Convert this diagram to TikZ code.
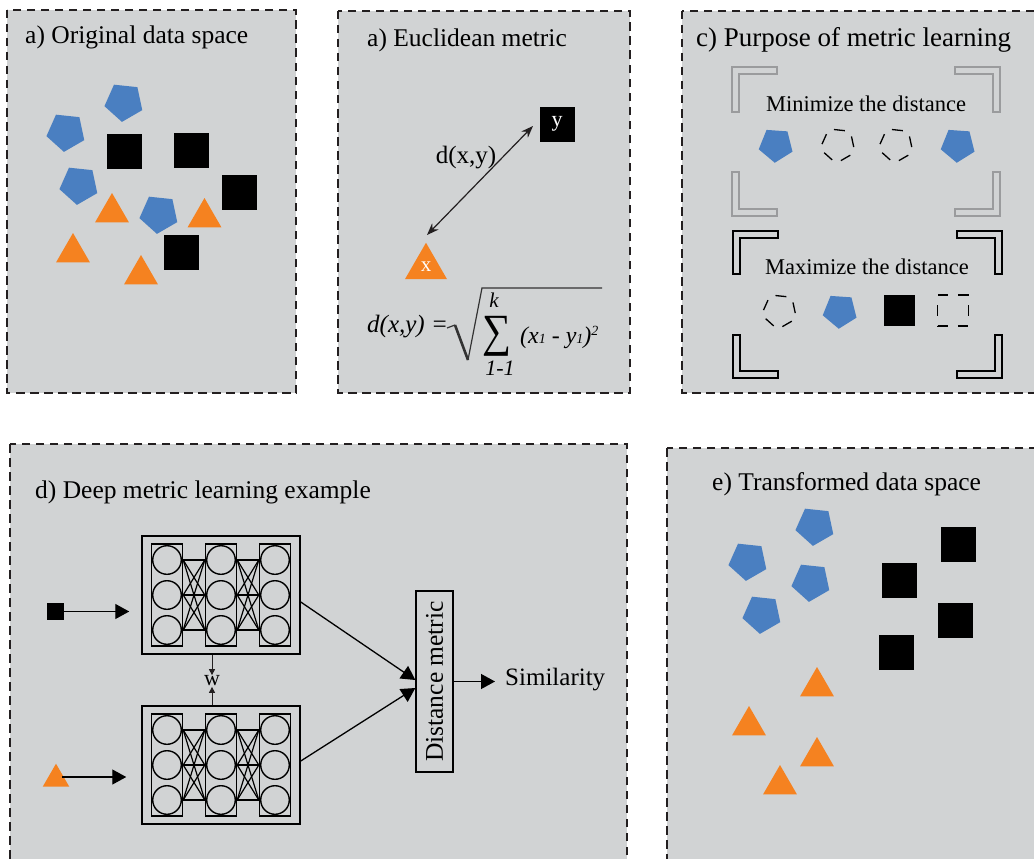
\documentclass[tikz,border=0pt]{standalone}
\usepackage{fontspec}
\setmainfont{Liberation Serif}
\usetikzlibrary{shapes.geometric,arrows.meta}
\definecolor{panelbg}{HTML}{D1D3D4}
\definecolor{frame}{HTML}{231F20}
\definecolor{pblue}{HTML}{4A7FC1}
\definecolor{porange}{HTML}{F58220}
\definecolor{bgray}{HTML}{9A9B9D}
\newcommand\myfs[1]{\fontsize{#1}{#1}\selectfont}
\tikzset{
  panel/.style={fill=panelbg, draw=frame, line width=2.2pt, dash pattern=on 8.5pt off 5.5pt},
  ttl/.style={anchor=base west, inner sep=0pt, font=\myfs{25.5}},
  pent/.style={regular polygon, regular polygon sides=5, fill=pblue, minimum size=40pt, inner sep=0pt, shape border rotate=174},
  spent/.style={pent, minimum size=35.6pt, shape border rotate=176},
  dpent/.style={regular polygon, regular polygon sides=5, draw=black, line width=1.3pt, minimum size=37pt, inner sep=0pt, shape border rotate=174,
     dash pattern=on 10.9pt off 10.9pt, dash phase=16.3pt},
  sq/.style={rectangle, fill=black, minimum size=35pt, inner sep=0pt},
  ssq/.style={rectangle, fill=black, minimum size=31pt, inner sep=0pt},
  dsq/.style={rectangle, draw=black, line width=1.3pt, minimum size=31pt, inner sep=0pt, dash pattern=on 10.33pt off 10.33pt},
  tri/.style={regular polygon, regular polygon sides=3, fill=porange, minimum size=39.2pt, inner sep=0pt},
  gbr/.style={draw=bgray, line width=1.5pt},
  kbr/.style={draw=black, line width=1.6pt},
  netbox/.style={rectangle, draw=black, line width=1.5pt, minimum width=158pt, minimum height=118pt, inner sep=0pt},
  colbox/.style={rectangle, draw=black, line width=1.4pt, minimum width=31pt, minimum height=102pt, inner sep=0pt},
  neuron/.style={circle, draw=black, line width=1.4pt, minimum size=28.6pt, inner sep=0pt},
  conn/.style={draw=black, line width=1.2pt},
  bigarrow/.style={draw=black, line width=1.3pt, -{Triangle[length=14pt,width=15pt]}},
  smallarrow/.style={draw=frame, line width=0.8pt, -{Triangle[length=6pt,width=6pt]}},
}
\begin{document}
\begin{tikzpicture}[x=1pt,y=-1pt]
\useasboundingbox (0,0) rectangle (1034,859);
\clip (0,0) rectangle (1034,859);
\fill[white] (0,0) rectangle (1034,859);

% ---------- panels ----------
\draw[panel] (7,10) rectangle (296,393);
\draw[panel] (338,11) rectangle (630,393);
\draw[panel] (682,11) rectangle (1050,393);
\draw[panel] (10,444) rectangle (627,880);
\draw[panel] (667,448) rectangle (1050,880);

% ---------- a) original data space ----------
\node[ttl] (ta) at (25,44) {a) Original data space};
\node[pent] (ap1) at (124,102) {};
\node[pent] (ap2) at (66,132) {};
\node[pent] (ap3) at (79,185) {};
\node[pent] (ap4) at (159,214) {};
\node[sq] (as1) at (124,151) {};
\node[sq] (as2) at (191,150) {};
\node[sq] (as3) at (239,192) {};
\node[sq] (as4) at (181,252) {};
\node[tri] (at1) at (112,212.6) {};
\node[tri] (at2) at (204.5,217.6) {};
\node[tri] (at3) at (73,252.6) {};
\node[tri] (at4) at (141,274.6) {};

% ---------- b) euclidean metric ----------
\node[ttl] (tb) at (367,47) {a) Euclidean metric};
\node[sq, text=white, font=\myfs{22}] (ysq) at (557,124) {y};
\node[tri, minimum size=48.5pt, text=white, font=\myfs{21}] (xtri) at (426,267) {x};
\coordinate (ea) at (427,235);
\coordinate (eb) at (533,126);
\draw[draw=frame, line width=1.2pt, {Stealth[length=12pt,width=9pt]}-{Stealth[length=12pt,width=9pt]}] (ea) -- (eb);
\node[font=\myfs{25}, inner sep=0pt] (dxy) at (466,158) {d(x,y)};
\node[anchor=base west, inner sep=0pt, font=\myfs{25}\itshape] (fl) at (367,332) {d(x,y) =};
\draw[draw=black!80, line width=1.2pt] (447,328) -- (455,325);
\draw[draw=black!80, line width=2.6pt] (455,325) -- (468,360);
\draw[draw=black!80, line width=1.2pt] (468,360) -- (482,288) -- (602,288);
\node[inner sep=0pt] (sig) at (497,336) {\resizebox*{29pt}{40pt}{∑}};
\node[inner sep=0pt, font=\myfs{21}\itshape] (kk) at (494,300) {k};
\node[inner sep=0pt, font=\myfs{22}\itshape] (ll) at (500,368) {1-1};
\node[anchor=base west, inner sep=0pt, font=\myfs{24}\itshape] (fr) at (520,343) {(x{\myfs{14}1} - y{\myfs{14}1})\raisebox{8pt}{\myfs{14}2}};

% ---------- c) purpose ----------
\node[ttl, font=\myfs{27}] (tc) at (696,47) {c) Purpose of metric learning};
\draw[gbr] (777,67) -- (732,67) -- (732,112) -- (739,112) -- (739,74) -- (777,74) -- cycle;
\draw[gbr] (955,67) -- (1000,67) -- (1000,112) -- (993,112) -- (993,74) -- (955,74) -- cycle;
\draw[gbr] (732,172) -- (732,216) -- (777,216) -- (777,209) -- (739,209) -- (739,172) -- cycle;
\draw[gbr] (1000,172) -- (1000,216) -- (955,216) -- (955,209) -- (993,209) -- (993,172) -- cycle;
\draw[kbr] (778,231) -- (733,231) -- (733,274) -- (740,274) -- (740,238) -- (778,238) -- cycle;
\draw[kbr] (957,231) -- (1002,231) -- (1002,274) -- (995,274) -- (995,238) -- (957,238) -- cycle;
\draw[kbr] (733,335) -- (733,378) -- (778,378) -- (778,371) -- (740,371) -- (740,335) -- cycle;
\draw[kbr] (1002,335) -- (1002,378) -- (957,378) -- (957,371) -- (995,371) -- (995,335) -- cycle;
\node[inner sep=0pt, font=\myfs{22.5}] (mini) at (866,104) {Minimize the distance};
\node[inner sep=0pt, font=\myfs{22.5}] (maxi) at (867,267) {Maximize the distance};
\node[spent] (cp1) at (776,145) {};
\node[dpent] (cd1) at (838,145) {};
\node[dpent] (cd2) at (896,145) {};
\node[spent] (cp2) at (958,145) {};
\node[dpent] (cd3) at (779.5,311) {};
\node[spent] (cp3) at (840,311) {};
\node[ssq] (cs1) at (899.5,310.5) {};
\node[dsq] (cs2) at (953,310.5) {};

% ---------- d) deep metric learning ----------
\node[ttl] (td) at (35,498) {d) Deep metric learning example};
\foreach \n/\cy in {t/595, b/765} {
  \node[netbox] (\n-net) at (221,\cy) {};
  \foreach \c/\cx in {1/167, 2/221, 3/275} {
    \node[colbox] (\n-col\c) at (\cx,\cy) {};
    \foreach \r/\dy in {1/-35, 2/0, 3/35} {
      \node[neuron] (\n-c\c-r\r) at ({\cx},{\cy+\dy}) {};
    }
  }
  \foreach \a/\b in {1/2, 2/3} {
    \foreach \i in {1,2,3} {
      \foreach \j in {1,2,3} {
        \draw[conn] (\n-col\a.east |- \n-c\a-r\i) -- (\n-col\b.west |- \n-c\b-r\j);
      }
    }
  }
}
\node[rectangle, fill=black, minimum size=17pt, inner sep=0pt] (insq) at (55.5,611.5) {};
\node[regular polygon, regular polygon sides=3, fill=porange, minimum size=30.6pt, inner sep=0pt] (intri) at (56,779) {};
\draw[bigarrow, shorten >=12pt] (insq.east) -- (t-net.west |- insq.east);
\draw[bigarrow, shorten >=15pt] ([xshift=-3pt]intri.east |- 0,777) -- (b-net.west |- 0,777);
\node[inner sep=0.5pt, font=\myfs{22}] (w) at (212,681) {w};
\draw[smallarrow] (w |- t-net.south) -- (w.north);
\draw[smallarrow] (w |- b-net.north) -- (w.south);
\node[rectangle, draw=black, line width=1.3pt, minimum width=37pt, minimum height=181pt, inner sep=0pt] (dist) at (434.5,681.5) {};
\node[rotate=90, inner sep=0pt, font=\myfs{25.5}] (distt) at (dist.center) {Distance metric};
\draw[bigarrow] ([yshift=-7pt]t-net.east) -- ([yshift=1.5pt]dist.west);
\draw[bigarrow] ([yshift=4pt]b-net.east) -- ([yshift=-6.5pt]dist.west);
\node[anchor=west, inner sep=0pt, font=\myfs{25}] (sim) at (505,680) {Similarity};
\draw[bigarrow, shorten >=10pt] (dist.east) -- (sim.west |- dist.east);

% ---------- e) transformed data space ----------
\node[ttl] (te) at (712,490) {e) Transformed data space};
\node[pent] (ep1) at (815,526) {};
\node[pent] (ep2) at (748,561) {};
\node[pent] (ep3) at (811,582) {};
\node[pent] (ep4) at (762,614) {};
\node[sq] (es1) at (958.5,544) {};
\node[sq] (es2) at (899.5,580.5) {};
\node[sq] (es3) at (955.5,620) {};
\node[sq] (es4) at (896.5,652.5) {};
\node[tri] (et1) at (817,686.6) {};
\node[tri] (et2) at (749,725.6) {};
\node[tri] (et3) at (817,756.6) {};
\node[tri] (et4) at (780,784.6) {};
\end{tikzpicture}
\end{document}
